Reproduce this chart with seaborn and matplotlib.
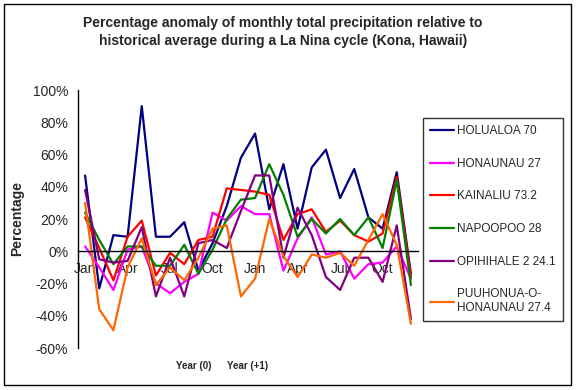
import numpy as np
import pandas as pd
import matplotlib
matplotlib.use('Agg')
import matplotlib.pyplot as plt
from matplotlib.patches import Rectangle
import seaborn as sns

# Monthly anomaly values (%), Jan of year 0 through Dec of year +1
months = ['Jan', 'Feb', 'Mar', 'Apr', 'May', 'Jun', 'Jul', 'Aug', 'Sep', 'Oct', 'Nov', 'Dec'] * 2
holualoa = [47, -23, 10, 9, 90, 9, 9, 18, -12, 5, 28, 58, 73, 26, 54, 14, 52, 63, 33, 51, 21, 14, 49, -14]
honaunau = [3, -10, -24, 1, 3, -20, -26, -19, -14, 24, 19, 28, 23, 23, -12, 8, 21, -2, 0, -17, -8, -7, 3, -17]
kainaliu = [21, 2, -18, 9, 19, -15, -1, -8, 7, 9, 39, 38, 37, 35, 7, 23, 26, 12, 19, 10, 6, 11, 46, -16]
napoopoo = [24, 7, -8, 3, 3, -9, -9, 4, -14, 1, 20, 32, 33, 54, 35, 9, 20, 11, 20, 10, 21, 2, 44, -21]
opihihale = [38, -5, -7, -6, 15, -28, -4, -28, 5, 7, 2, 25, 47, 47, -4, 27, 10, -16, -24, -4, -4, -19, 16, -42]
puuhonua = [30, -36, -49, -10, 8, -21, -10, -18, -4, 14, 16, -28, -17, 20, -3, -16, -2, -4, -1, -9, 7, 23, 4, -45]

station_names = ['HOLUALOA 70', 'HONAUNAU 27', 'KAINALIU 73.2', 'NAPOOPOO 28',
                 'OPIHIHALE 2 24.1', 'PUUHONUA-O-\nHONAUNAU 27.4']
station_values = [holualoa, honaunau, kainaliu, napoopoo, opihihale, puuhonua]
colors = ['#000080', '#FF00FF', '#FF0000', '#008000', '#800080', '#FF6600']

# long-form table for seaborn
rows = []
for name, vals in zip(station_names, station_values):
    for i, v in enumerate(vals):
        rows.append({'idx': i, 'month': months[i], 'station': name, 'anomaly': v})
df = pd.DataFrame(rows)

sns.set_style('white')
plt.rcParams['font.family'] = ['Liberation Sans', 'DejaVu Sans']

fig = plt.figure(figsize=(5.77, 3.90), dpi=100)
ax = fig.add_axes([78 / 577, 1 - 348 / 390, 340 / 577, 258 / 390])

sns.lineplot(data=df, x='idx', y='anomaly', hue='station', hue_order=station_names,
             palette=colors, linewidth=1.6, sort=False, ax=ax)

ax.set_xlim(-0.5, 23.5)
ax.set_ylim(-60, 100)
ax.set_yticks(np.arange(-60, 101, 20))
ax.set_yticklabels([f'{v}%' for v in range(-60, 101, 20)], fontsize=10)

# category boundaries get tick marks, labels sit on every third month
ax.set_xticks(np.arange(-0.5, 24, 1))
ax.set_xticklabels([])
ax.set_xticks(np.arange(0, 24, 3), minor=True)
ax.set_xticklabels([months[i] for i in range(0, 24, 3)], minor=True, fontsize=10)
ax.tick_params(axis='x', which='major', direction='out', length=4, width=1, color='black')
ax.tick_params(axis='x', which='minor', length=0, pad=8)
ax.tick_params(axis='y', direction='out', length=4, width=1, color='black', pad=3)

for s in ['top', 'right']:
    ax.spines[s].set_visible(False)
ax.spines['bottom'].set_position(('data', 0))
ax.spines['bottom'].set_color('black')
ax.spines['left'].set_color('black')
ax.spines['bottom'].set_linewidth(1)
ax.spines['left'].set_linewidth(1)

ax.set_xlabel('')
ax.set_ylabel('Percentage', fontsize=10, fontweight='bold', labelpad=6)

fig.text(0.49, 1 - 16 / 390, 'Percentage anomaly of monthly total precipitation relative to\n'
         'historical average during a La Nina cycle (Kona, Hawaii)',
         ha='center', va='top', fontsize=10, fontweight='bold', linespacing=1.4)
fig.text(194 / 577, 1 - 366 / 390, 'Year (0)', ha='center', va='center', fontsize=7, fontweight='bold')
fig.text(248 / 577, 1 - 366 / 390, 'Year (+1)', ha='center', va='center', fontsize=7, fontweight='bold')

handles, labels = ax.get_legend_handles_labels()
leg = ax.legend(handles, labels, loc='upper left', bbox_to_anchor=(423 / 577, 1 - 118 / 390),
                bbox_transform=fig.transFigure, fontsize=8.5, frameon=True, fancybox=False,
                edgecolor='black', handlelength=2.0, handletextpad=0.3, labelspacing=1.75,
                borderpad=0.6, borderaxespad=0)
leg.get_frame().set_linewidth(1)

fig.patches.append(Rectangle((4 / 577, 5 / 390), 567 / 577, 381 / 390, transform=fig.transFigure,
                             fill=False, edgecolor='black', linewidth=1))

fig.savefig('out.png', dpi=100)
